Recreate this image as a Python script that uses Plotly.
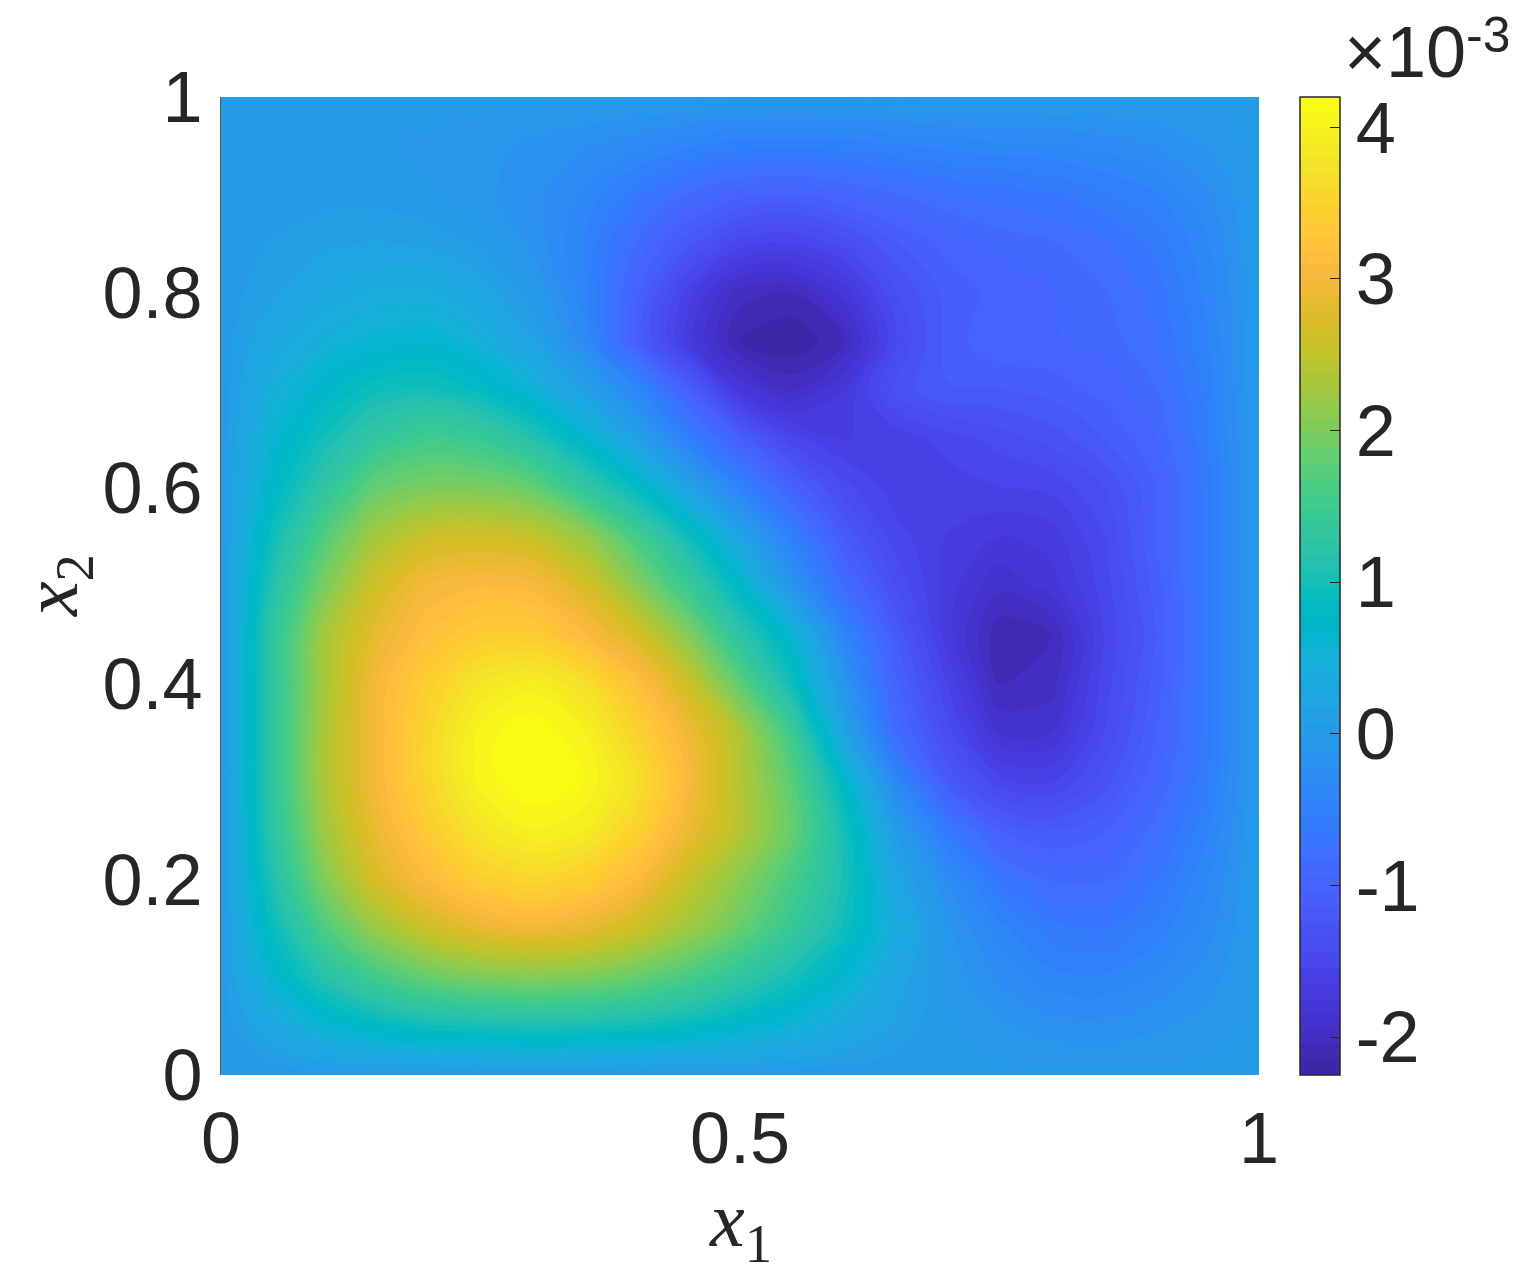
import plotly.graph_objects as go

x1_values = [0, .05, .1, .15, .2, .25, .3, .35, .4, .45, .5, .55, .6, .65, .7, .75, .8, .85, .9, .95, 1]
x2_values = [0, .05, .1, .15, .2, .25, .3, .35, .4, .45, .5, .55, .6, .65, .7, .75, .8, .85, .9, .95, 1]

# values, in units of 1e-3, one list per x2 row
row_000 = [0] * 21
row_005 = [0, .3, .6, .8, .95, 1.0, 1.05, 1.02, .95, .85, .7, .55, .35, .15, -.02, -.1, -.18, -.2, -.15, -.08, 0]
row_010 = [0, .65, 1.15, 1.55, 1.85, 2.0, 2.05, 2.0, 1.85, 1.6, 1.3, 1.0, .65, .25, -.05, -.25, -.4, -.42, -.32, -.18, 0]
row_015 = [0, .9, 1.65, 2.2, 2.6, 2.85, 2.95, 2.85, 2.6, 2.25, 1.85, 1.4, .95, .4, -.1, -.4, -.6, -.65, -.5, -.28, 0]
row_020 = [0, 1.1, 2.05, 2.7, 3.1, 3.45, 3.55, 3.45, 3.1, 2.55, 2.1, 1.6, 1.05, .25, -.25, -.65, -.85, -.85, -.65, -.35, 0]
row_025 = [0, 1.25, 2.25, 2.9, 3.4, 3.8, 4.0, 3.9, 3.5, 2.9, 2.4, 1.85, 1.0, .05, -.6, -1.05, -1.15, -1.05, -.8, -.45, 0]
row_030 = [0, 1.3, 2.35, 3.0, 3.55, 4.05, 4.2, 4.1, 3.7, 3.05, 2.4, 1.75, .75, -.35, -1.15, -1.5, -1.55, -1.3, -.95, -.55, 0]
row_035 = [0, 1.3, 2.35, 3.0, 3.55, 4.05, 4.2, 4.0, 3.5, 2.95, 2.35, 1.5, .2, -.85, -1.4, -1.85, -1.85, -1.45, -1.05, -.6, 0]
row_040 = [0, 1.3, 2.3, 3.0, 3.45, 3.8, 3.95, 3.7, 3.2, 2.6, 1.8, .95, -.1, -1.0, -1.55, -2.05, -2.0, -1.5, -1.1, -.6, 0]
row_045 = [0, 1.3, 2.3, 2.85, 3.2, 3.4, 3.4, 3.1, 2.7, 2.05, 1.25, .6, -.4, -1.15, -1.7, -2.12, -2.05, -1.55, -1.15, -.6, 0]
row_050 = [0, 1.15, 2.0, 2.65, 3.0, 3.1, 3.05, 2.7, 2.1, 1.45, .75, -.1, -.85, -1.35, -1.7, -1.92, -1.8, -1.5, -1.1, -.6, 0]
row_055 = [0, .95, 1.7, 2.3, 2.6, 2.65, 2.55, 2.2, 1.6, .95, .2, -.5, -1.15, -1.5, -1.65, -1.75, -1.7, -1.45, -1.05, -.6, 0]
row_060 = [0, .75, 1.3, 1.85, 2.0, 2.0, 1.85, 1.35, .85, .2, -.45, -1.0, -1.4, -1.6, -1.6, -1.55, -1.52, -1.35, -1.05, -.6, 0]
row_065 = [0, .6, 1.0, 1.35, 1.55, 1.45, 1.15, .7, .15, -.5, -1.05, -1.5, -1.65, -1.62, -1.5, -1.4, -1.3, -1.15, -.95, -.55, 0]
row_070 = [0, .45, .75, .95, 1.0, .85, .55, .15, -.35, -1.05, -1.75, -1.95, -1.75, -1.3, -1.15, -1.15, -1.1, -1.0, -.85, -.5, 0]
row_075 = [0, .3, .5, .6, .65, .5, .2, -.3, -1.05, -1.7, -2.15, -2.25, -2.05, -1.45, -1.1, -.95, -.95, -.9, -.75, -.45, 0]
row_080 = [0, .15, .3, .4, .4, .25, 0, -.4, -1.0, -1.6, -2.0, -2.05, -1.8, -1.35, -1.1, -1.0, -.95, -.85, -.7, -.4, 0]
row_085 = [0, .08, .15, .18, .15, .05, -.15, -.45, -.85, -1.2, -1.5, -1.55, -1.4, -1.15, -1.0, -.9, -.85, -.75, -.6, -.35, 0]
row_090 = [0, 0, .03, .02, -.02, -.1, -.2, -.35, -.6, -.85, -1.0, -1.05, -.95, -.85, -.75, -.7, -.65, -.55, -.45, -.25, 0]
row_095 = [0, 0, 0, -.02, -.05, -.1, -.15, -.22, -.3, -.42, -.5, -.52, -.5, -.45, -.4, -.37, -.35, -.3, -.22, -.12, 0]
row_100 = [0] * 21

z_values = [row_000, row_005, row_010, row_015, row_020, row_025, row_030, row_035, row_040, row_045, row_050,
            row_055, row_060, row_065, row_070, row_075, row_080, row_085, row_090, row_095, row_100]

# parula, 64 levels
parula = [
    (.2422, .1504, .6603), (.2504, .1650, .7076), (.2578, .1818, .7511), (.2647, .1978, .7952),
    (.2706, .2147, .8364), (.2751, .2342, .8710), (.2783, .2559, .8991), (.2803, .2782, .9221),
    (.2813, .3006, .9414), (.2810, .3228, .9579), (.2795, .3447, .9717), (.2760, .3667, .9829),
    (.2699, .3892, .9906), (.2602, .4123, .9952), (.2440, .4358, .9988), (.2206, .4603, .9973),
    (.1963, .4847, .9892), (.1834, .5074, .9798), (.1786, .5289, .9682), (.1764, .5499, .9520),
    (.1687, .5703, .9359), (.1540, .5902, .9218), (.1460, .6091, .9079), (.1380, .6276, .8973),
    (.1248, .6459, .8883), (.1113, .6635, .8763), (.0952, .6798, .8598), (.0689, .6948, .8394),
    (.0297, .7082, .8163), (.0036, .7203, .7917), (.0067, .7312, .7660), (.0433, .7411, .7394),
    (.0964, .7500, .7120), (.1408, .7584, .6842), (.1717, .7670, .6554), (.1938, .7758, .6251),
    (.2161, .7843, .5923), (.2470, .7918, .5567), (.2906, .7973, .5188), (.3406, .8008, .4789),
    (.3909, .8029, .4354), (.4456, .8024, .3909), (.5044, .7993, .3480), (.5616, .7942, .3045),
    (.6174, .7876, .2612), (.6720, .7793, .2227), (.7242, .7698, .1910), (.7738, .7598, .1646),
    (.8203, .7498, .1535), (.8634, .7406, .1596), (.9035, .7330, .1774), (.9393, .7288, .2100),
    (.9728, .7298, .2394), (.9956, .7434, .2371), (.9970, .7659, .2199), (.9952, .7893, .2028),
    (.9892, .8136, .1885), (.9786, .8386, .1766), (.9676, .8639, .1643), (.9610, .8890, .1537),
    (.9597, .9135, .1423), (.9628, .9373, .1265), (.9691, .9606, .1064), (.9769, .9839, .0805),
]
colorscale = []
for i, c in enumerate(parula):
    rgb = f"rgb({c[0]*255:.0f},{c[1]*255:.0f},{c[2]*255:.0f})"
    colorscale.append([i / 64, rgb])
    colorscale.append([(i + 1) / 64, rgb])

text_color = "#262626"
sans = "Liberation Sans"
serif = "Liberation Serif"
z_min, z_max = -2.25, 4.2

fig = go.Figure(go.Contour(
    x=x1_values,
    y=x2_values,
    z=z_values,
    zmin=z_min,
    zmax=z_max,
    colorscale=colorscale,
    contours=dict(coloring="fill", start=z_min, end=z_max, size=(z_max - z_min) / 64),
    line=dict(width=0, smoothing=1.0),
    colorbar=dict(
        x=1079 / 1038, xanchor="left", xpad=0, ypad=0, y=0, yanchor="bottom", len=1,
        thickness=40,
        outlinecolor=text_color, outlinewidth=1.5,
        tickvals=[-2, -1, 0, 1, 2, 3, 4],
        ticktext=["-2", "-1", "0", "1", "2", "3", "4"],
        ticks="inside", ticklen=10, tickcolor=text_color, tickwidth=1,
        tickfont=dict(family=sans, size=72, color=text_color),
    ),
))

fig.update_layout(
    width=1508,
    height=1266,
    margin=dict(l=213, r=257, t=89, b=199, autoexpand=False),
    paper_bgcolor="white",
    plot_bgcolor="white",
    font=dict(family=sans, color=text_color),
    annotations=[
        dict(text="×10", x=1, y=1, xref="paper", yref="paper", xanchor="right", yanchor="bottom",
             xshift=209, yshift=3, showarrow=False, font=dict(family=sans, size=72, color=text_color)),
        dict(text="-3", x=1, y=1, xref="paper", yref="paper", xanchor="right", yanchor="bottom",
             xshift=253, yshift=32, showarrow=False, font=dict(family=sans, size=50, color=text_color)),
        dict(text="<i>x</i><sub>1</sub>", x=.5, y=0, xref="paper", yref="paper", xanchor="center", yanchor="middle",
             yshift=-150, showarrow=False, font=dict(family=serif, size=78, color=text_color)),
        dict(text="<i>x</i><sub>2</sub>", x=0, y=.5, xref="paper", yref="paper", xanchor="center", yanchor="middle",
             xshift=-165, textangle=-90, showarrow=False, font=dict(family=serif, size=78, color=text_color)),
    ],
)
fig.update_xaxes(
    range=[0, 1], tickvals=[0, .5, 1], ticktext=["0", "0.5", "1"], ticks="",
    showgrid=False, zeroline=False, ticklabelstandoff=15, automargin=False,
    tickfont=dict(family=sans, size=72, color=text_color),
)
fig.update_yaxes(
    range=[0, 1], tickvals=[0, .2, .4, .6, .8, 1], ticktext=["0", "0.2", "0.4", "0.6", "0.8", "1"], ticks="",
    showgrid=False, zeroline=False, showline=True, linecolor="#555555", linewidth=1, ticklabelstandoff=3,
    automargin=False,
    tickfont=dict(family=sans, size=72, color=text_color),
)

fig.write_html("out.html")
